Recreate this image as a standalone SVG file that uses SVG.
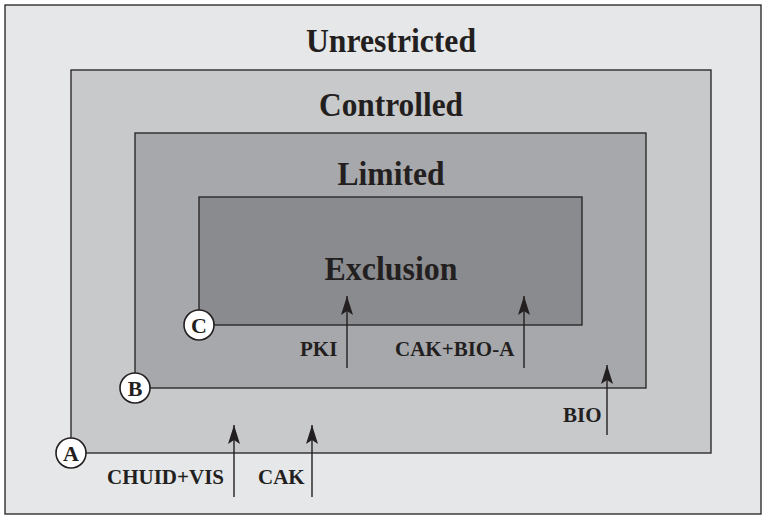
<svg xmlns="http://www.w3.org/2000/svg" width="766" height="519" viewBox="0 0 766 519">
<style>
.zone{stroke:#231f20;stroke-width:1.3}
.title{font-family:"Liberation Serif",serif;font-weight:bold;font-size:33px;fill:#231f20;text-anchor:middle}
.lbl{font-family:"Liberation Serif",serif;font-weight:bold;font-size:21px;fill:#231f20}
.badge circle{fill:#fff;stroke:#231f20;stroke-width:1.6}
.badge text{font-family:"Liberation Serif",serif;font-weight:bold;font-size:22px;fill:#231f20;text-anchor:middle}
.conn line{stroke:#231f20;stroke-width:1.4}
</style>
<defs>
<marker id="ah" viewBox="0 0 19 12" refX="19" refY="6" markerWidth="19" markerHeight="12" markerUnits="userSpaceOnUse" orient="auto">
<path d="M19 6 L0 0 L4 6 L0 12 Z" fill="#231f20"/>
</marker>
</defs>
<g id="unrestricted">
<rect class="zone" x="5" y="5" width="756" height="509" fill="#e6e7e8"/>
<text class="title" x="391" y="52" textLength="170" lengthAdjust="spacingAndGlyphs">Unrestricted</text>
</g>
<g id="controlled">
<rect class="zone" x="71" y="70" width="640" height="383" fill="#c8c9cb"/>
<text class="title" x="391" y="116" textLength="144" lengthAdjust="spacingAndGlyphs">Controlled</text>
</g>
<g id="limited">
<rect class="zone" x="135" y="133" width="511" height="255" fill="#a7a8ab"/>
<text class="title" x="391" y="185" textLength="107" lengthAdjust="spacingAndGlyphs">Limited</text>
</g>
<g id="exclusion">
<rect class="zone" x="199" y="197" width="383" height="128" fill="#8a8b8e"/>
<text class="title" x="391" y="280" textLength="133" lengthAdjust="spacingAndGlyphs">Exclusion</text>
</g>
<g id="badge-a" class="badge"><circle cx="71" cy="453" r="15"/><text x="71" y="461">A</text></g>
<g id="badge-b" class="badge"><circle cx="135" cy="388" r="15"/><text x="135" y="396">B</text></g>
<g id="badge-c" class="badge"><circle cx="199" cy="325" r="15"/><text x="199" y="333">C</text></g>
<g id="connectors" class="conn">
<line x1="234" y1="497" x2="234" y2="425" marker-end="url(#ah)"/>
<line x1="312" y1="497" x2="312" y2="425" marker-end="url(#ah)"/>
<line x1="347" y1="368" x2="347" y2="296" marker-end="url(#ah)"/>
<line x1="524" y1="368" x2="524" y2="296" marker-end="url(#ah)"/>
<line x1="607" y1="435" x2="607" y2="365" marker-end="url(#ah)"/>
</g>
<g id="labels">
<text class="lbl" x="224" y="484" text-anchor="end">CHUID+VIS</text>
<text class="lbl" x="258" y="484">CAK</text>
<text class="lbl" x="300" y="356">PKI</text>
<text class="lbl" x="395" y="356">CAK+BIO-A</text>
<text class="lbl" x="563" y="422">BIO</text>
</g>
</svg>
